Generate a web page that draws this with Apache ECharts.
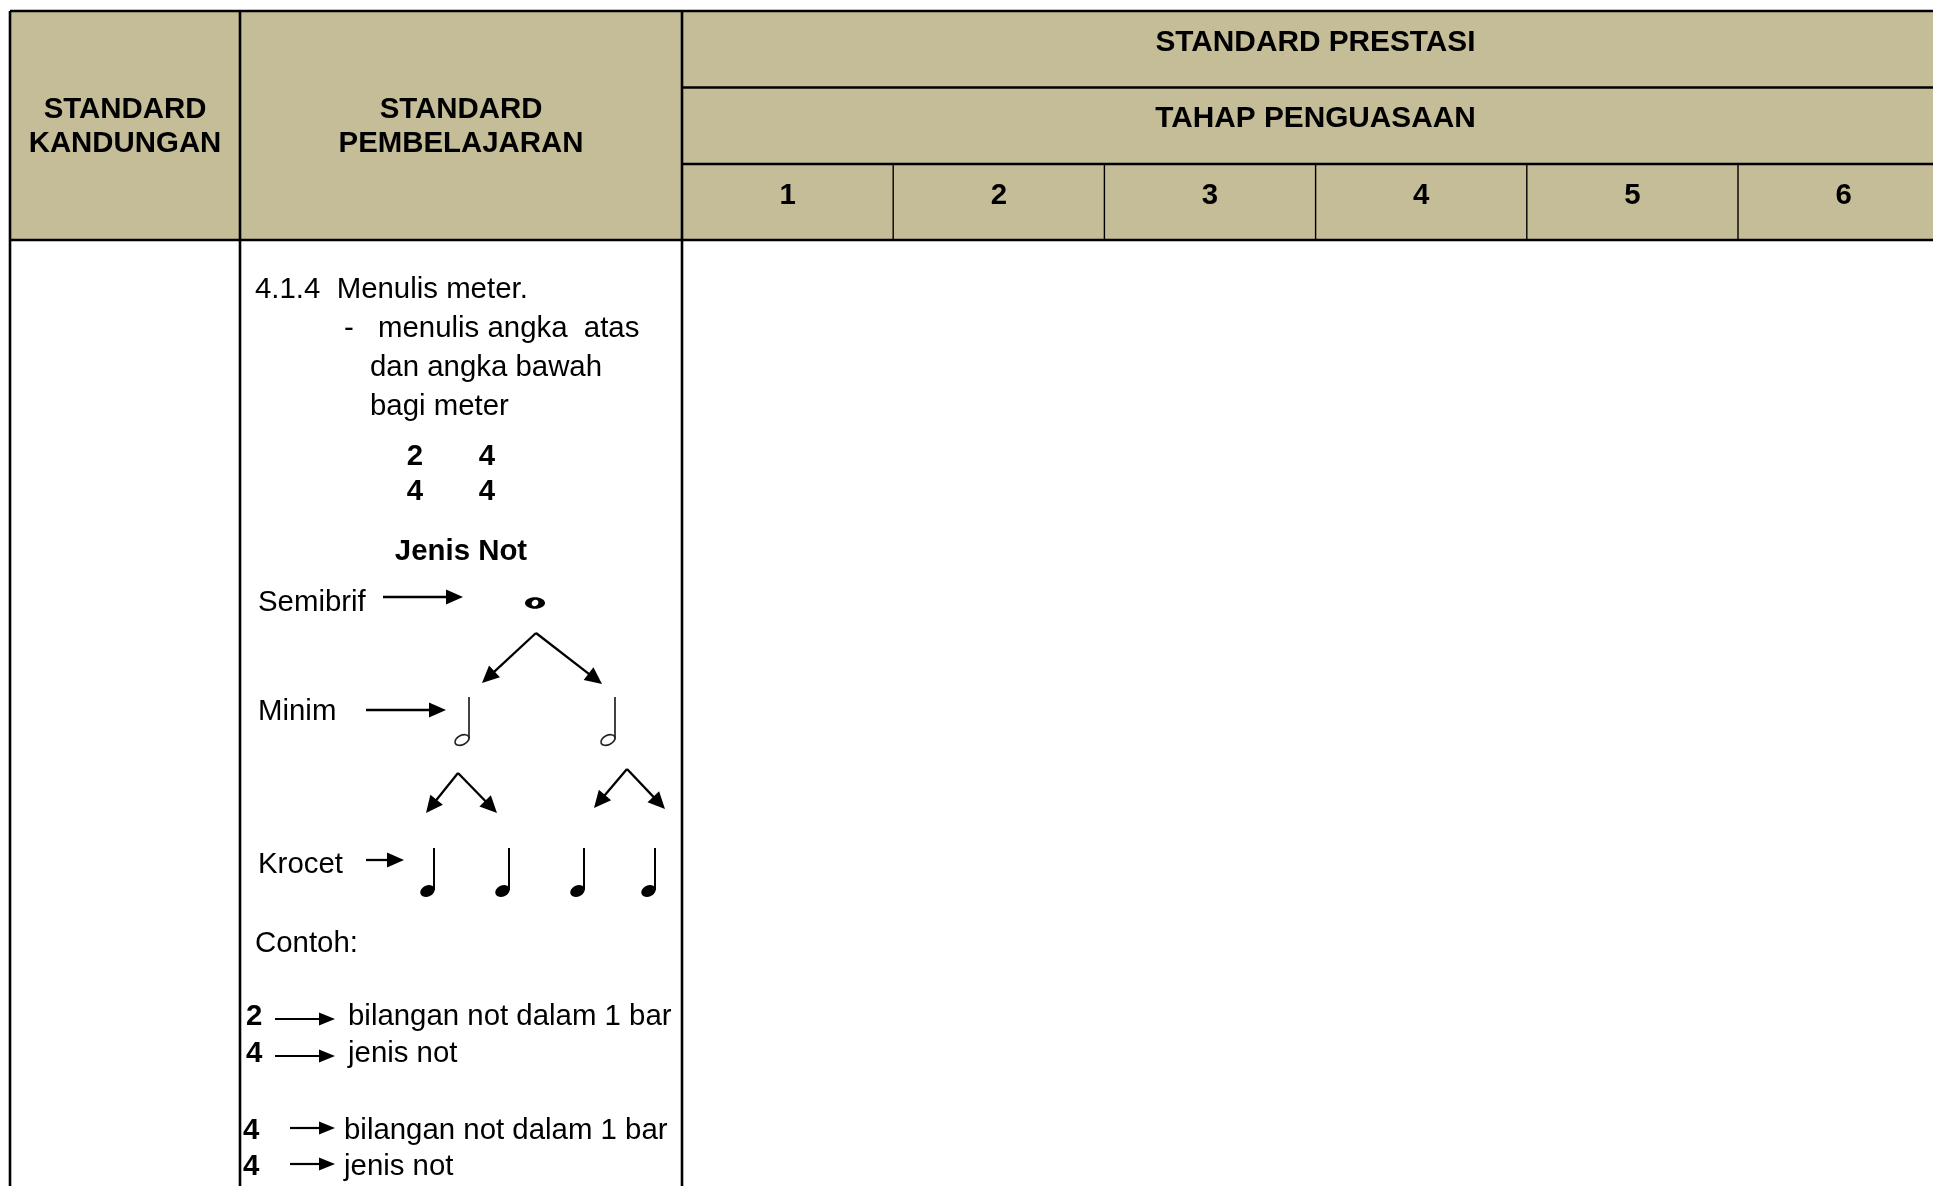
<!DOCTYPE html>
<html><head><meta charset="utf-8">
<script src="https://cdn.jsdelivr.net/npm/echarts@6.0.0/dist/echarts.min.js"></script>
<style>html,body{margin:0;padding:0;background:#fff;overflow:hidden}#c{width:1933px;height:1186px}</style>
</head><body><div id="c"></div>
<script>
// ---- content ----
const contentHeaders = ['STANDARD\nKANDUNGAN', 'STANDARD\nPEMBELAJARAN'];
const prestasiTitle = 'STANDARD PRESTASI';
const tahapTitle = 'TAHAP PENGUASAAN';
const levels = ['1', '2', '3', '4', '5', '6'];
const skillTitle = '4.1.4  Menulis meter.';
const skillBullet = '-';
const skillLines = ['menulis angka  atas', 'dan angka bawah', 'bagi meter'];
const meterTop = ['2', '4'];
const meterBottom = ['4', '4'];
const noteTitle = 'Jenis Not';
const noteNames = ['Semibrif', 'Minim', 'Krocet'];
const noteCounts = [1, 2, 4];
const exampleLabel = 'Contoh:';
const exampleMeters = [['2', '4'], ['4', '4']];
const exampleMeanings = ['bilangan not dalam 1 bar', 'jenis not'];

// ---- layout ----
const FONT = '"Liberation Sans", Arial, sans-serif';
const HEAD_BG = '#C4BD97';
const T = { left: 10, top: 11, c1: 240, c2: 682, r1: 87.5, r2: 164, hb: 240, levelW: 211.2, right: 1965, bottom: 1200 };
const DY = 2.5;

const els = [];
function txt(s, x, y, opt) {
  opt = opt || {};
  const align = opt.align || 'left';
  els.push({ type: 'text', z: 10, style: {
    text: s, x: x, y: y + DY, fill: '#000',
    font: (opt.bold ? 'bold ' : '') + (opt.size || 29.4) + 'px ' + FONT,
    align: align, textAlign: align, verticalAlign: 'middle', textVerticalAlign: 'middle',
    lineHeight: opt.lh || 34
  }});
}
function line(x1, y1, x2, y2, w, color) {
  els.push({ type: 'line', z: 5, shape: { x1: x1, y1: y1, x2: x2, y2: y2 },
    style: { stroke: color || '#000', lineWidth: w || 2 } });
}
function arrow(x1, y1, x2, y2, hl, hw, lw) {
  hl = hl || 16; hw = hw || 7; lw = lw || 2.3;
  const dx = x2 - x1, dy = y2 - y1, len = Math.sqrt(dx * dx + dy * dy);
  const ux = dx / len, uy = dy / len;
  const bx = x2 - ux * hl, by = y2 - uy * hl;
  line(x1, y1, bx + ux * 2, by + uy * 2, lw);
  els.push({ type: 'polygon', z: 6, shape: { points: [[x2, y2], [bx - uy * hw, by + ux * hw], [bx + uy * hw, by - ux * hw]] },
    style: { fill: '#000' } });
}
function ellipse(cx, cy, rx, ry, rot, style) {
  els.push({ type: 'ellipse', z: 7, x: cx, y: cy, rotation: rot, shape: { cx: 0, cy: 0, rx: rx, ry: ry }, style: style });
}
function semibreve(cx, cy) {
  ellipse(cx, cy, 10, 5.8, 0, { fill: '#000' });
  ellipse(cx, cy, 3.6, 3.0, 0.7, { fill: '#fff' });
}
function minim(cx, cy) {
  ellipse(cx, cy, 7.5, 4.6, 0.45, { fill: 'none', stroke: '#222', lineWidth: 1.7 });
  line(cx + 7, cy - 43, cx + 7, cy - 2, 1.7, '#222');
}
function crotchet(cx, cy) {
  ellipse(cx, cy, 7.5, 5.6, 0.45, { fill: '#000' });
  line(cx + 6.5, cy - 43, cx + 6.5, cy - 1, 2, '#000');
}

// header background
els.push({ type: 'rect', z: 1, shape: { x: T.left, y: T.top, width: T.right - T.left, height: T.hb - T.top }, style: { fill: HEAD_BG } });

// grid lines
line(T.left, T.top, T.right, T.top, 2.6);
line(T.left, T.hb, T.right, T.hb, 2.6);
line(T.c2, T.r1, T.right, T.r1, 2.4);
line(T.c2, T.r2, T.right, T.r2, 2.4);
line(T.left, T.top, T.left, T.bottom, 2.6);
line(T.c1, T.top, T.c1, T.bottom, 2.6);
line(T.c2, T.top, T.c2, T.bottom, 2.6);
levels.forEach(function (l, i) {
  const x0 = T.c2 + i * T.levelW;
  if (i > 0) line(x0, T.r2, x0, T.hb, 1.4);
  txt(l, x0 + T.levelW / 2, 193, { bold: true, align: 'center' });
});

// header texts
txt(contentHeaders[0], (T.left + T.c1) / 2, 124, { bold: true, align: 'center' });
txt(contentHeaders[1], (T.c1 + T.c2) / 2, 124, { bold: true, align: 'center' });
txt(prestasiTitle, (T.c2 + 1949) / 2, 40, { bold: true, align: 'center', size: 29.8 });
txt(tahapTitle, (T.c2 + 1949) / 2, 116, { bold: true, align: 'center', size: 29.8 });

// body
txt(skillTitle, 255, 287);
txt(skillBullet, 344, 326);
txt(skillLines[0], 378, 326);
txt(skillLines[1], 370, 365);
txt(skillLines[2], 370, 404);
meterTop.forEach(function (m, i) { txt(m, 415 + i * 72, 454, { bold: true, align: 'center' }); });
meterBottom.forEach(function (m, i) { txt(m, 415 + i * 72, 489, { bold: true, align: 'center' }); });
txt(noteTitle, 461, 549, { bold: true, align: 'center' });

// note tree
const rowY = [600, 709, 862];
noteNames.forEach(function (n, i) { txt(n, 258, rowY[i]); });
arrow(383, 597, 463, 597, 17, 7.5);
arrow(366, 710, 446, 710, 17, 7.5);
arrow(366, 860, 404, 860, 17, 7.5);
semibreve(535, 603);
const minimX = [462, 608];
minimX.slice(0, noteCounts[1]).forEach(function (x) { minim(x, 740); });
const crotX = [427.5, 502.5, 577.5, 648.5];
crotX.slice(0, noteCounts[2]).forEach(function (x) { crotchet(x, 891); });
arrow(536, 633, 482, 683, 17, 8);
arrow(536, 633, 602, 684, 17, 8);
arrow(458, 773, 426, 813, 17, 8);
arrow(458, 773, 497, 813, 17, 8);
arrow(627, 769, 594, 808, 17, 8);
arrow(627, 769, 665, 809, 17, 8);

// examples
txt(exampleLabel, 255, 941);
const exY = [[1014, 1051], [1128, 1164]];
exampleMeters.forEach(function (pair, k) {
  pair.forEach(function (d, j) {
    const y = exY[k][j];
    txt(d, k === 0 ? 246 : 243, y, { bold: true });
    if (k === 0) arrow(275, y + 5, 335, y + 5, 16, 6.5, 2.2);
    else arrow(290, y, 335, y, 16, 6.5, 2.2);
    txt(exampleMeanings[j], k === 0 ? 348 : 344, y);
  });
});

const chart = echarts.init(document.getElementById('c'), null, { renderer: 'canvas', width: 1933, height: 1186 });
chart.setOption({ backgroundColor: '#fff', animation: false, graphic: { elements: els } });
</script></body></html>
